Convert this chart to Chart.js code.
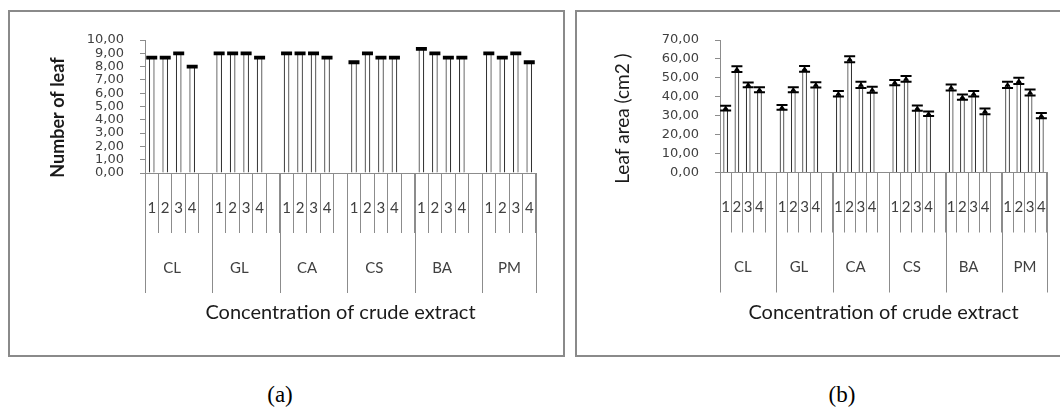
<!DOCTYPE html>
<html>
<head>
<meta charset="utf-8">
<script src="https://cdn.jsdelivr.net/npm/chart.js@4.4.1/dist/chart.umd.min.js"></script>
<style>
body { margin: 0; background: #fff; width: 1060px; height: 410px; overflow: hidden; position: relative; }
.frame { position: absolute; top: 10px; height: 343px; border: 2px solid #8a8a8a; background: #fff; }
#frameA { left: 8px; width: 553px; }
#frameB { left: 575px; width: 500px; }
canvas { position: absolute; left: 0; top: 0; }
.caption { position: absolute; top: 383px; width: 100px; line-height: 24px; text-align: center; font-family: "Liberation Serif", serif; font-size: 23px; color: #000; }
</style>
</head>
<body>
<div class="frame" id="frameA"><canvas id="chartA" width="553" height="343"></canvas></div>
<div class="frame" id="frameB"><canvas id="chartB" width="483" height="343"></canvas></div>
<div class="caption" style="left:230px">(a)</div>
<div class="caption" style="left:792px">(b)</div>
<script>
// extracts and concentrations
const groups = ["CL", "GL", "CA", "CS", "BA", "PM"];
const concLabels = ["1", "2", "3", "4"];

// (a) number of leaf, per extract (conc 1-4)
const leafCL = [8.67, 8.67, 9.00, 8.00];
const leafGL = [9.00, 9.00, 9.00, 8.67];
const leafCA = [9.00, 9.00, 9.00, 8.67];
const leafCS = [8.33, 9.00, 8.67, 8.67];
const leafBA = [9.33, 9.00, 8.67, 8.67];
const leafPM = [9.00, 8.67, 9.00, 8.33];
const leafErr = [0.05, 0.05, 0.05, 0.05];

// (b) leaf area (cm2)
const areaCL = [34.0, 54.6, 46.3, 43.7];
const areaGL = [34.4, 43.7, 54.7, 46.3];
const areaCA = [41.6, 59.8, 46.3, 43.7];
const areaCS = [47.5, 49.5, 34.0, 31.0];
const areaBA = [44.9, 39.8, 41.6, 32.3];
const areaPM = [46.3, 48.4, 42.3, 30.0];
const areaErrCL = [1.3, 1.5, 1.2, 1.3];
const areaErrGL = [1.2, 1.3, 1.5, 1.4];
const areaErrCA = [1.5, 1.6, 1.6, 1.6];
const areaErrCS = [1.4, 1.5, 1.4, 1.2];
const areaErrBA = [1.6, 1.4, 1.5, 1.5];
const areaErrPM = [1.6, 1.6, 1.6, 1.4];

const leafAxisTicks = [0, 10, 1];
const areaAxisTicks = [0, 70, 10];

// builds the flat category list: 1,2,3,4 and an empty slot between extracts
function buildSeries(perGroup, perGroupErr) {
    let labels = [], values = [], errors = [], starts = [];
    for (let g = 0; g < groups.length; g++) {
        starts.push(labels.length);
        for (let c = 0; c < concLabels.length; c++) {
            labels.push(concLabels[c]);
            values.push(perGroup[g][c]);
            errors.push(perGroupErr[g][c]);
        }
        if (g < groups.length - 1) {
            labels.push("");
            values.push(null);
            errors.push(null);
        }
    }
    starts.push(labels.length);
    return { labels: labels, values: values, errors: errors, starts: starts };
}

const axisGray = "#8c8c8c";
const textGray = "#404040";
const labelFont = "Lato";

// error bars drawn on top of every bar
const errorBarPlugin = {
    id: "errorBars",
    afterDatasetsDraw: function(chart, args, opts) {
        const ctx = chart.ctx;
        const yScale = chart.scales.y;
        const meta = chart.getDatasetMeta(0);
        const values = chart.data.datasets[0].data;
        ctx.save();
        ctx.strokeStyle = "#000";
        ctx.fillStyle = "#000";
        meta.data.forEach(function(bar, i) {
            const v = values[i];
            const e = opts.errors[i];
            if (v === null || e === null) return;
            const x = bar.x;
            const yt = yScale.getPixelForValue(v + e);
            const yb = yScale.getPixelForValue(v - e);
            const w = opts.capWidth / 2;
            ctx.lineWidth = 1;
            ctx.beginPath();
            ctx.moveTo(x, yt);
            ctx.lineTo(x, yb);
            ctx.stroke();
            ctx.lineWidth = opts.capLine;
            ctx.beginPath();
            ctx.moveTo(x - w, yt);
            ctx.lineTo(x + w, yt);
            ctx.moveTo(x - w, yb);
            ctx.lineTo(x + w, yb);
            ctx.stroke();
            if (opts.marker) {
                const ym = yScale.getPixelForValue(v);
                ctx.beginPath();
                ctx.moveTo(x, ym - 3);
                ctx.lineTo(x + 3, ym + 2);
                ctx.lineTo(x - 3, ym + 2);
                ctx.closePath();
                ctx.fill();
            }
        });
        ctx.restore();
    }
};

// long separators and extract names under the concentration labels, plus the y title
const groupAxisPlugin = {
    id: "groupAxis",
    afterDraw: function(chart, args, opts) {
        const ctx = chart.ctx;
        const x = chart.scales.x;
        const top = x.top;
        ctx.save();
        ctx.strokeStyle = axisGray;
        ctx.lineWidth = 1;
        ctx.fillStyle = textGray;
        ctx.font = "15px " + labelFont;
        ctx.textAlign = "center";
        ctx.textBaseline = "middle";
        for (let g = 0; g < groups.length; g++) {
            const left = Math.round(x.getPixelForValue(opts.starts[g] - 0.5)) + 0.5;
            const right = Math.round(x.getPixelForValue(opts.starts[g + 1] - 0.5)) + 0.5;
            ctx.beginPath();
            ctx.moveTo(left, top);
            ctx.lineTo(left, top + opts.longLine);
            if (g === groups.length - 1) {
                ctx.moveTo(right, top);
                ctx.lineTo(right, top + opts.longLine);
            }
            ctx.stroke();
            const end = g === groups.length - 1 ? right : x.getPixelForValue(opts.starts[g + 1] - 1.5);
            ctx.fillText(groups[g], (left + end) / 2, top + opts.labelOffset);
        }
        // y title, Excel puts it a bit below the middle of the plot
        ctx.fillStyle = "#1a1a1a";
        ctx.font = (opts.titleBold ? "bold " : "") + opts.titleSize + "px " + labelFont;
        ctx.translate(opts.titleX, opts.titleY);
        ctx.rotate(-Math.PI / 2);
        ctx.fillText(opts.title, 0, 0);
        ctx.restore();
    }
};

function makeChart(canvasId, series, ticks, yTitle, yBold, dims, errOpts) {
    return new Chart(document.getElementById(canvasId), {
        type: "bar",
        data: {
            labels: series.labels,
            datasets: [{
                data: series.values,
                backgroundColor: "#ffffff",
                borderColor: "#333333",
                borderWidth: 1.2,
                barPercentage: 0.42,
                categoryPercentage: 1
            }]
        },
        options: {
            responsive: false,
            animation: false,
            layout: { padding: { left: 0, top: dims.top, right: dims.right, bottom: 0 } },
            plugins: {
                legend: { display: false },
                tooltip: { enabled: false },
                errorBars: errOpts,
                groupAxis: {
                    starts: series.starts, longLine: 120, labelOffset: 95,
                    title: yTitle, titleBold: yBold, titleSize: dims.titleSize,
                    titleX: dims.titleX, titleY: dims.titleY
                }
            },
            scales: {
                x: {
                    offset: true,
                    border: { color: axisGray },
                    grid: { offset: true, drawOnChartArea: false, tickLength: 60, color: axisGray, tickColor: axisGray },
                    ticks: { autoSkip: false, maxRotation: 0, padding: -34, color: textGray, font: { family: labelFont, size: 15 } },
                    title: { display: true, text: "Concentration of crude extract", color: "#1a1a1a", padding: { top: 0, bottom: 30 }, font: { family: labelFont, size: 20 } },
                    afterFit: function(scale) { scale.height = dims.xHeight; }
                },
                y: {
                    min: ticks[0],
                    max: ticks[1],
                    border: { color: axisGray },
                    grid: { drawOnChartArea: false, tickLength: 5, tickColor: axisGray },
                    ticks: {
                        stepSize: ticks[2],
                        autoSkip: false,
                        padding: 16,
                        color: textGray,
                        font: { family: "DejaVu Sans", size: 13, lineHeight: 1 },
                        callback: function(v) { return v.toFixed(2).replace(".", ","); }
                    },
                    afterFit: function(scale) { scale.width = dims.yWidth; }
                }
            }
        },
        plugins: [errorBarPlugin, groupAxisPlugin]
    });
}

const leafSeries = buildSeries([leafCL, leafGL, leafCA, leafCS, leafBA, leafPM],
    [leafErr, leafErr, leafErr, leafErr, leafErr, leafErr]);
const areaSeries = buildSeries([areaCL, areaGL, areaCA, areaCS, areaBA, areaPM],
    [areaErrCL, areaErrGL, areaErrCA, areaErrCS, areaErrBA, areaErrPM]);

makeChart("chartA", leafSeries, leafAxisTicks, "Number of leaf", true,
    { top: 28, right: 27, xHeight: 182, yWidth: 135, titleX: 48, titleY: 105.5, titleSize: 18 },
    { errors: leafSeries.errors, capWidth: 11, capLine: 2.5, marker: false });

makeChart("chartB", areaSeries, areaAxisTicks, "Leaf area (cm2 )", false,
    { top: 28, right: 13, xHeight: 182.5, yWidth: 143, titleX: 46, titleY: 106.5, titleSize: 19 },
    { errors: areaSeries.errors, capWidth: 11, capLine: 2, marker: true });
</script>
</body>
</html>
